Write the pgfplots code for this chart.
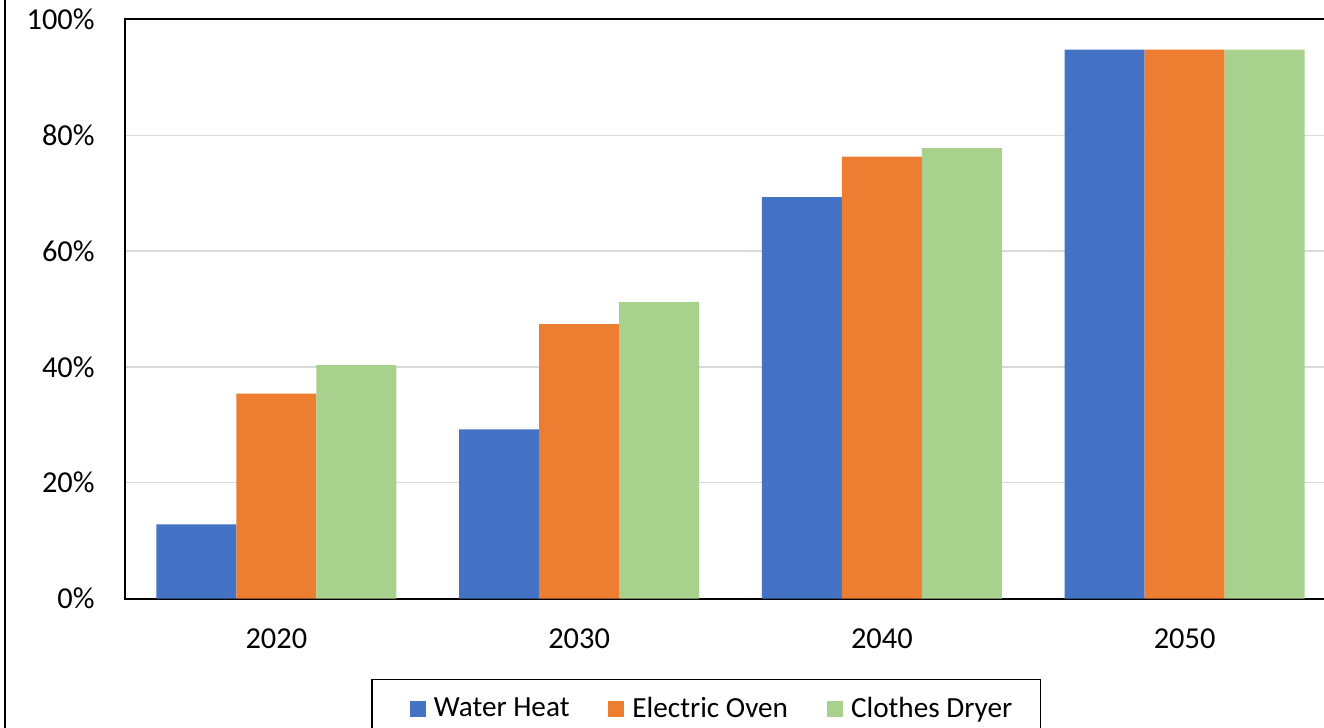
\documentclass[border=0pt]{standalone}
\usepackage{fontspec}
\setmainfont{Carlito}
\usepackage{pgfplots}
\pgfplotsset{compat=1.18}

\definecolor{cblue}{HTML}{4472C4}
\definecolor{corange}{HTML}{ED7D31}
\definecolor{cgreen}{HTML}{A9D18E}
\definecolor{cgrid}{HTML}{D9D9D9}

\begin{document}
\begin{tikzpicture}
\useasboundingbox (-62.5bp,-64.75bp) rectangle (599.5bp,299.25bp);
\clip (-62.5bp,-64.75bp) rectangle (599.5bp,299.25bp);
\draw[line width=1bp] (-60bp,-70bp) -- (-60bp,310bp);
\begin{axis}[
    at={(0,0)}, anchor=south west,
    scale only axis,
    width=605.5bp, height=289.5bp,
    ybar=0pt, bar width=40bp,
    xmin=-0.5, xmax=3.5,
    ymin=0, ymax=100,
    xtick={0,1,2,3},
    xticklabels={2020,2030,2040,2050},
    ytick={0,20,40,60,80,100},
    yticklabels={0\%,20\%,40\%,60\%,80\%,100\%},
    major tick length=0pt,
    tick style={draw=none},
    ymajorgrids,
    grid style={cgrid, line width=0.75bp},
    axis line style={line width=1bp, black},
    tick label style={font=\fontsize{15.2bp}{18bp}\selectfont, inner sep=0pt},
    yticklabel shift=15bp,
    xticklabel shift=15bp,
    legend columns=3,
    legend image code/.code={%
        \path[draw=none, fill=none] (0bp,0bp) rectangle (17bp,0.1bp);
        \fill[#1, draw=none] (5bp,-4bp) rectangle (13bp,4bp);},
    legend style={
        at={(0.4798,-0.1384)}, anchor=north,
        draw=black, line width=0.75bp,
        font=\fontsize{14.6bp}{17bp}\selectfont,
        inner xsep=14bp, inner ysep=8bp,
        nodes={inner xsep=0pt, inner ysep=1bp},
        /tikz/every even column/.append style={column sep=14.5bp},
    },
]
\addplot[fill=cblue, draw=none] coordinates {(0,12.8) (1,29.2) (2,69.3) (3,94.8)};
\addlegendentry{Water Heat}
\addplot[fill=corange, draw=none] coordinates {(0,35.4) (1,47.4) (2,76.3) (3,94.8)};
\addlegendentry{Electric Oven}
\addplot[fill=cgreen, draw=none] coordinates {(0,40.3) (1,51.2) (2,77.8) (3,94.8)};
\addlegendentry{Clothes Dryer}
\end{axis}
\end{tikzpicture}
\end{document}
